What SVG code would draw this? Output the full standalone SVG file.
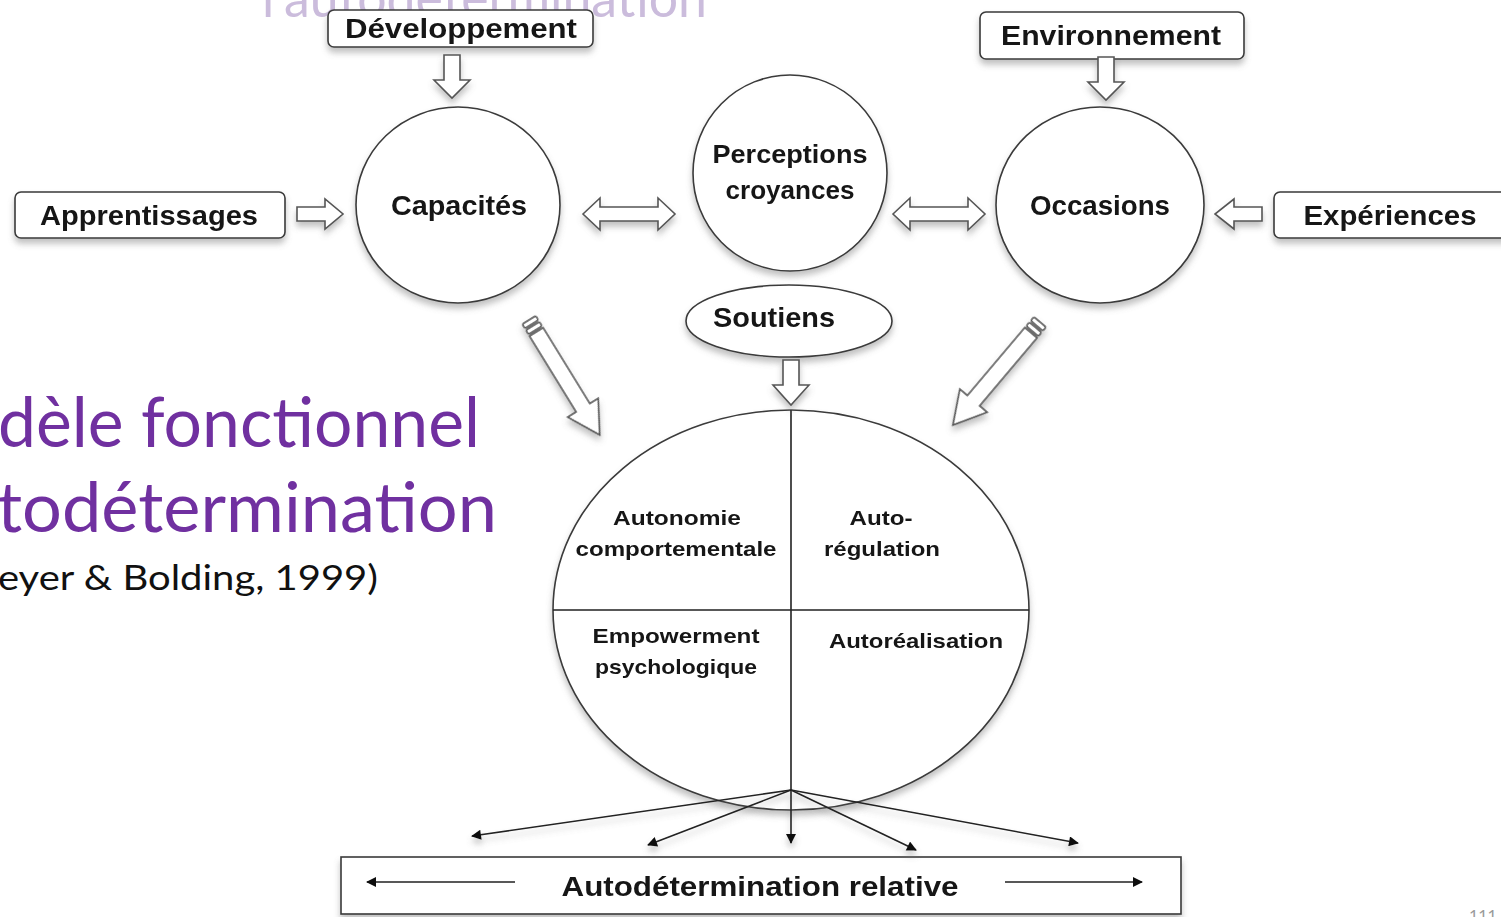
<svg xmlns="http://www.w3.org/2000/svg" width="1501" height="917" viewBox="0 0 1501 917">
<defs>
<style>
.lbl{font-family:"Liberation Sans",Arial,sans-serif;font-weight:bold;fill:#151515;}
.shape{fill:#fff;stroke:#3a3a3a;stroke-width:1.6;}
.blk{fill:#fff;stroke:#555;stroke-width:1.6;}
.ln{stroke:#222;stroke-width:1.6;fill:none;}
.title{font-family:Lato,"Noto Sans",sans-serif;fill:#7030A0;}
</style>
<filter id="sh" x="-20%" y="-20%" width="140%" height="160%">
<feDropShadow dx="0" dy="5" stdDeviation="3" flood-color="#777" flood-opacity="0.45"/>
</filter>
<marker id="ah" viewBox="0 0 10 10" refX="9" refY="5" markerWidth="11" markerHeight="10" orient="auto-start-reverse" markerUnits="userSpaceOnUse">
<path d="M0,0 L10,5 L0,10 Z" fill="#111"/>
</marker>
<g id="pencil">
<rect x="0" y="-8" width="5" height="16" rx="2" class="blk"/>
<rect x="7" y="-8" width="5" height="16" rx="2" class="blk"/>
<path d="M14,-8 H103 V-18 L135,0 L103,18 V8 H14 Z" class="blk"/>
</g>
</defs>
<rect width="1501" height="917" fill="#fff"/>

<!-- slide texts -->
<text x="262" y="17" font-family="Lato,'Noto Sans',sans-serif" font-size="54" fill="#cbbcdc" textLength="445" lengthAdjust="spacingAndGlyphs">l'autodétermination</text>
<text class="title" x="480" y="447" font-size="70" text-anchor="end" textLength="482" lengthAdjust="spacingAndGlyphs">dèle fonctionnel</text>
<text class="title" x="497" y="532" font-size="70" text-anchor="end" textLength="500" lengthAdjust="spacingAndGlyphs">todétermination</text>
<text x="378" y="590" font-family="Lato,'Noto Sans',sans-serif" font-size="35" fill="#111" text-anchor="end" textLength="380" lengthAdjust="spacingAndGlyphs">eyer &amp; Bolding, 1999)</text>
<text x="1469" y="921" font-family="Lato,'Noto Sans',sans-serif" font-size="16" fill="#999">111</text>

<!-- nodes -->
<g id="developpement" filter="url(#sh)">
<rect class="shape" x="328" y="10" width="265" height="37" rx="6"/>
<text class="lbl" x="461" y="38" font-size="27" text-anchor="middle" textLength="232" lengthAdjust="spacingAndGlyphs">Développement</text>
</g>
<g id="environnement" filter="url(#sh)">
<rect class="shape" x="980" y="12" width="264" height="47" rx="6"/>
<text class="lbl" x="1111" y="45" font-size="27" text-anchor="middle" textLength="220" lengthAdjust="spacingAndGlyphs">Environnement</text>
</g>
<g id="apprentissages" filter="url(#sh)">
<rect class="shape" x="15" y="192" width="270" height="46" rx="6"/>
<text class="lbl" x="149" y="225" font-size="27" text-anchor="middle" textLength="218" lengthAdjust="spacingAndGlyphs">Apprentissages</text>
</g>
<g id="experiences" filter="url(#sh)">
<rect class="shape" x="1274" y="192" width="240" height="46" rx="6"/>
<text class="lbl" x="1390" y="225" font-size="27" text-anchor="middle" textLength="173" lengthAdjust="spacingAndGlyphs">Expériences</text>
</g>
<g id="capacites" filter="url(#sh)">
<ellipse class="shape" cx="458" cy="205" rx="102" ry="98"/>
<text class="lbl" x="459" y="215" font-size="27" text-anchor="middle" textLength="136" lengthAdjust="spacingAndGlyphs">Capacités</text>
</g>
<g id="perceptions" filter="url(#sh)">
<ellipse class="shape" cx="790" cy="173" rx="97" ry="98"/>
<text class="lbl" x="790" y="163" font-size="25" text-anchor="middle" textLength="155" lengthAdjust="spacingAndGlyphs">Perceptions</text>
<text class="lbl" x="790" y="199" font-size="25" text-anchor="middle" textLength="129" lengthAdjust="spacingAndGlyphs">croyances</text>
</g>
<g id="occasions" filter="url(#sh)">
<ellipse class="shape" cx="1100" cy="205" rx="104" ry="98"/>
<text class="lbl" x="1100" y="215" font-size="27" text-anchor="middle" textLength="140" lengthAdjust="spacingAndGlyphs">Occasions</text>
</g>
<g id="soutiens" filter="url(#sh)">
<ellipse class="shape" cx="789" cy="321" rx="103" ry="36"/>
<text class="lbl" x="774" y="327" font-size="27" text-anchor="middle" textLength="122" lengthAdjust="spacingAndGlyphs">Soutiens</text>
</g>
<g id="autodetermination" filter="url(#sh)">
<ellipse class="shape" cx="791" cy="610" rx="238" ry="200"/>
<line class="ln" x1="553" y1="610" x2="1029" y2="610"/>
<line class="ln" x1="791" y1="410" x2="791" y2="790"/>
<text class="lbl" x="677" y="525" font-size="21" text-anchor="middle" textLength="128" lengthAdjust="spacingAndGlyphs">Autonomie</text>
<text class="lbl" x="676" y="556" font-size="21" text-anchor="middle" textLength="201" lengthAdjust="spacingAndGlyphs">comportementale</text>
<text class="lbl" x="881" y="525" font-size="21" text-anchor="middle" textLength="63" lengthAdjust="spacingAndGlyphs">Auto-</text>
<text class="lbl" x="882" y="556" font-size="21" text-anchor="middle" textLength="116" lengthAdjust="spacingAndGlyphs">régulation</text>
<text class="lbl" x="676" y="643" font-size="21" text-anchor="middle" textLength="167" lengthAdjust="spacingAndGlyphs">Empowerment</text>
<text class="lbl" x="676" y="674" font-size="21" text-anchor="middle" textLength="162" lengthAdjust="spacingAndGlyphs">psychologique</text>
<text class="lbl" x="916" y="648" font-size="21" text-anchor="middle" textLength="174" lengthAdjust="spacingAndGlyphs">Autoréalisation</text>
</g>
<g id="relative" filter="url(#sh)">
<rect class="shape" x="341" y="857" width="840" height="57"/>
<line class="ln" x1="515" y1="882" x2="367" y2="882" marker-end="url(#ah)"/>
<line class="ln" x1="1005" y1="882" x2="1142" y2="882" marker-end="url(#ah)"/>
<text class="lbl" x="760" y="896" font-size="28" text-anchor="middle" textLength="397" lengthAdjust="spacingAndGlyphs">Autodétermination relative</text>
</g>

<!-- connectors -->
<g id="connectors">
<g filter="url(#sh)">
<path class="blk" d="M444,55 H460 V80 H470 L452,98 L434,80 H444 Z"/>
<path class="blk" d="M1098,57 H1114 V82 H1124 L1106,100 L1088,82 H1098 Z"/>
<path class="blk" d="M783,360 H799 V385 H809 L791,405 L773,385 H783 Z"/>
<path class="blk" d="M297,207 H325 V199 L343,214 L325,229 V221 H297 Z"/>
<path class="blk" d="M1262,207 H1234 V199 L1215,214 L1234,229 V221 H1262 Z"/>
<path class="blk" d="M583,214 L600,198 V207 H658 V198 L675,214 L658,230 V221 H600 V230 Z"/>
<path class="blk" d="M893,214 L910,198 V207 H968 V198 L985,214 L968,230 V221 H910 V230 Z"/>
<use href="#pencil" transform="translate(529,320) rotate(58.4)"/>
<use href="#pencil" transform="translate(1040,322) rotate(130.2)"/>
</g>
<g filter="url(#sh)">
<line class="ln" x1="791" y1="790" x2="472" y2="836" marker-end="url(#ah)"/>
<line class="ln" x1="791" y1="790" x2="648" y2="845" marker-end="url(#ah)"/>
<line class="ln" x1="791" y1="790" x2="791" y2="843" marker-end="url(#ah)"/>
<line class="ln" x1="791" y1="790" x2="916" y2="850" marker-end="url(#ah)"/>
<line class="ln" x1="791" y1="790" x2="1078" y2="843" marker-end="url(#ah)"/>
</g>
</g>
</svg>
